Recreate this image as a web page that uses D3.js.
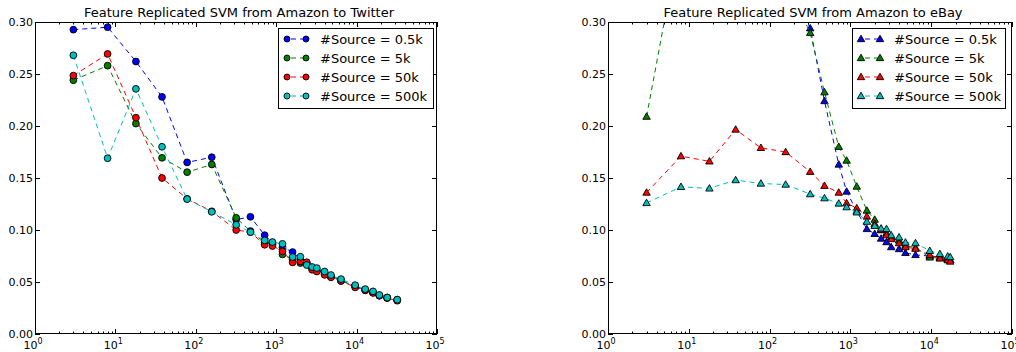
<!DOCTYPE html>
<html><head><meta charset="utf-8">
<script src="https://cdn.jsdelivr.net/npm/d3@7/dist/d3.min.js"></script>
<style>body{margin:0;background:#fff}svg{display:block;font-family:"DejaVu Sans",sans-serif}</style>
</head><body><svg id="c" width="1016" height="352"></svg>
<script>
// ---- data ----
const seriesNames = ["#Source = 0.5k", "#Source = 5k", "#Source = 50k", "#Source = 500k"];
const seriesColors = ["#0000ff", "#008000", "#ff0000", "#00bfbf"];
const yTicks = [0.00, 0.05, 0.10, 0.15, 0.20, 0.25, 0.30];
const xTickExps = [0, 1, 2, 3, 4, 5];

const xTwitter = [3, 8, 18, 38, 78, 158, 318, 478, 718, 898, 1198, 1598, 1998, 2398, 2798, 3198, 3998, 4798, 6398, 9598, 12798, 15998, 19198, 23998, 31998];
const twitter05k = [0.2926, 0.295, 0.262, 0.228, 0.165, 0.170, 0.110, 0.1127, 0.095, 0.088, 0.0835, 0.0788, 0.072, 0.068, 0.0635, 0.062, 0.059, 0.0555, 0.052, 0.046, 0.0425, 0.040, 0.037, 0.035, 0.0325];
const twitter5k = [0.244, 0.258, 0.2023, 0.1694, 0.1556, 0.163, 0.1117, 0.099, 0.088, 0.087, 0.0765, 0.072, 0.0682, 0.068, 0.063, 0.061, 0.058, 0.055, 0.051, 0.046, 0.042, 0.040, 0.037, 0.035, 0.033];
const twitter50k = [0.2485, 0.2693, 0.208, 0.150, 0.130, 0.118, 0.100, 0.098, 0.0858, 0.0846, 0.0794, 0.0688, 0.0698, 0.069, 0.0618, 0.0601, 0.0569, 0.0545, 0.051, 0.0448, 0.042, 0.0395, 0.0368, 0.0345, 0.032];
const twitter500k = [0.268, 0.169, 0.2357, 0.180, 0.1297, 0.1175, 0.105, 0.098, 0.090, 0.0884, 0.0867, 0.074, 0.0743, 0.0663, 0.0644, 0.0634, 0.0601, 0.0567, 0.0528, 0.047, 0.0432, 0.041, 0.0375, 0.035, 0.033];

const xEbay = [3, 8, 18, 38, 78, 158, 318, 478, 718, 898, 1198, 1598, 1998, 2398, 2798, 3198, 3998, 4798, 6398, 9598, 12798, 15998, 17200];
const ebay05k = [0.50, 0.48, 0.45, 0.42, 0.38, 0.345, 0.294, 0.224, 0.163, 0.137, 0.118, 0.101, 0.0963, 0.0918, 0.0884, 0.0836, 0.0817, 0.078, 0.076, 0.075, 0.074, 0.0725, 0.071];
const ebay5k = [0.209, 0.386, 0.40, 0.39, 0.37, 0.34, 0.2895, 0.2325, 0.180, 0.1668, 0.1418, 0.1187, 0.110, 0.100, 0.097, 0.093, 0.090, 0.085, 0.083, 0.0736, 0.073, 0.072, 0.071];
const ebay50k = [0.136, 0.171, 0.166, 0.1966, 0.179, 0.175, 0.156, 0.1425, 0.136, 0.1258, 0.121, 0.113, 0.106, 0.100, 0.095, 0.0913, 0.0874, 0.0836, 0.082, 0.076, 0.0727, 0.071, 0.0697];
const ebay500k = [0.126, 0.1415, 0.140, 0.148, 0.1447, 0.1437, 0.1345, 0.1306, 0.1255, 0.122, 0.117, 0.108, 0.104, 0.1015, 0.101, 0.095, 0.093, 0.088, 0.0874, 0.080, 0.077, 0.0746, 0.074];

const svg = d3.select("#c");

function panel(id, left, right, top, bottom, title, xs, ys, marker, legend) {
  const g = svg.append("g");
  const x = d3.scaleLog().domain([1, 1e5]).range([left, right]);
  const y = d3.scaleLinear().domain([0, 0.30]).range([bottom, top]);
  g.append("clipPath").attr("id", "clip" + id).append("rect")
    .attr("x", left).attr("y", top).attr("width", right - left).attr("height", bottom - top);
  const plot = g.append("g").attr("clip-path", `url(#clip${id})`);
  const line = d3.line().x((d, i) => x(d[0])).y(d => y(d[1]));
  const sym = marker === "circle" ? null : d3.symbol().type(d3.symbolTriangle).size(24);
  ys.forEach((vals, si) => {
    const pts = xs.map((xv, i) => [xv, vals[i]]);
    plot.append("path").attr("d", line(pts)).attr("fill", "none")
      .attr("stroke", seriesColors[si]).attr("stroke-width", 1).attr("stroke-dasharray", "5,4");
    pts.forEach(p => {
      if (marker === "circle") {
        plot.append("circle").attr("cx", x(p[0])).attr("cy", y(p[1])).attr("r", 3.4)
          .attr("fill", seriesColors[si]).attr("stroke", "#000").attr("stroke-width", 0.9);
      } else {
        plot.append("path").attr("d", sym()).attr("transform", `translate(${x(p[0])},${y(p[1]) + 0.5})`)
          .attr("fill", seriesColors[si]).attr("stroke", "#000").attr("stroke-width", 0.9);
      }
    });
  });
  // ticks
  const tk = g.append("g").attr("stroke", "#000").attr("stroke-width", 1);
  xTickExps.forEach(e => {
    const px = Math.round(x(Math.pow(10, e))) + 0.5;
    tk.append("line").attr("x1", px).attr("x2", px).attr("y1", bottom).attr("y2", bottom - 5);
    tk.append("line").attr("x1", px).attr("x2", px).attr("y1", top).attr("y2", top + 5);
    if (e < 5) for (let m = 2; m <= 9; m++) {
      const mx = Math.round(x(m * Math.pow(10, e))) + 0.5;
      tk.append("line").attr("x1", mx).attr("x2", mx).attr("y1", bottom).attr("y2", bottom - 2.5);
      tk.append("line").attr("x1", mx).attr("x2", mx).attr("y1", top).attr("y2", top + 2.5);
    }
    const t = g.append("text").attr("x", x(Math.pow(10, e)) - 2).attr("y", bottom + 15)
      .attr("text-anchor", "middle").attr("font-size", 11).attr("fill", "#000");
    t.append("tspan").text("10");
    t.append("tspan").attr("dy", -5).attr("font-size", 8).text(String(e));
  });
  yTicks.forEach(v => {
    const py = Math.round(y(v)) + 0.5;
    tk.append("line").attr("x1", left).attr("x2", left + 5).attr("y1", py).attr("y2", py);
    tk.append("line").attr("x1", right).attr("x2", right - 5).attr("y1", py).attr("y2", py);
    g.append("text").attr("x", left - 2).attr("y", y(v) + 4).attr("text-anchor", "end")
      .attr("font-size", 11).attr("fill", "#000").text(d3.format(".2f")(v));
  });
  g.append("rect").attr("x", left + 0.5).attr("y", top + 0.5).attr("width", right - left - 1)
    .attr("height", bottom - top - 1).attr("fill", "none").attr("stroke", "#000").attr("stroke-width", 1);
  g.append("text").attr("x", (left + right) / 2 + 3).attr("y", 17).attr("text-anchor", "middle")
    .attr("font-size", 13).attr("fill", "#000").text(title);
  // legend
  const lg = g.append("g");
  lg.append("rect").attr("x", legend.x + 0.5).attr("y", legend.y + 0.5).attr("width", legend.w)
    .attr("height", legend.h).attr("fill", "#fff").attr("stroke", "#000").attr("stroke-width", 1);
  seriesNames.forEach((n, i) => {
    const cy = legend.y + 11 + i * 19;
    const x1 = legend.x + 9, x2 = legend.x + 28;
    lg.append("line").attr("x1", x1).attr("x2", x2).attr("y1", cy).attr("y2", cy)
      .attr("stroke", seriesColors[i]).attr("stroke-dasharray", "5,4").attr("stroke-dashoffset", -4);
    [x1, x2].forEach(mx => {
      if (marker === "circle") {
        lg.append("circle").attr("cx", mx).attr("cy", cy).attr("r", 3).attr("fill", seriesColors[i])
          .attr("stroke", "#000").attr("stroke-width", 0.9);
      } else {
        lg.append("path").attr("d", sym()).attr("transform", `translate(${mx},${cy + 0.5})`)
          .attr("fill", seriesColors[i]).attr("stroke", "#000").attr("stroke-width", 0.9);
      }
    });
    lg.append("text").attr("x", legend.x + 42).attr("y", cy + 5).attr("font-size", 13)
      .attr("fill", "#000").text(n);
  });
}

panel("L", 35, 437, 22, 334, "Feature Replicated SVM from Amazon to Twitter", xTwitter,
  [twitter05k, twitter5k, twitter50k, twitter500k], "circle", {x: 278, y: 28, w: 155, h: 80});
panel("R", 608, 1012, 22, 334, "Feature Replicated SVM from Amazon to eBay", xEbay,
  [ebay05k, ebay5k, ebay50k, ebay500k], "triangle", {x: 852, y: 28, w: 153, h: 80});
</script></body></html>
